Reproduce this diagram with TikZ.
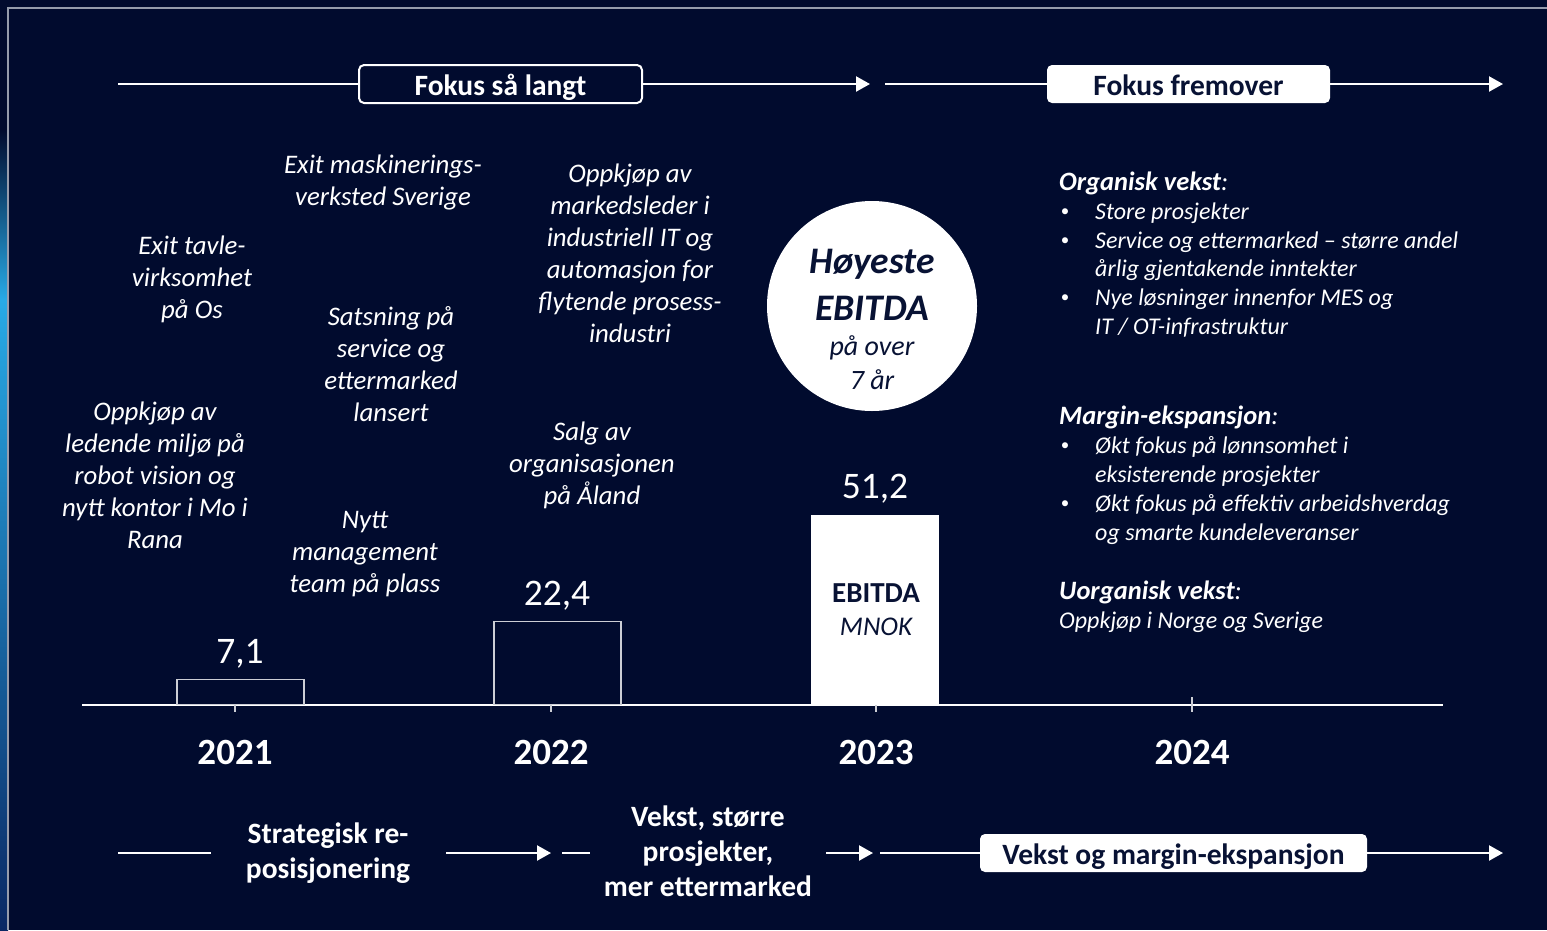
\documentclass[tikz,border=0pt]{standalone}
\usepackage{fontspec}
\setmainfont{Carlito}
\usetikzlibrary{arrows.meta}
\definecolor{bg}{RGB}{1,11,46}
\definecolor{navy}{RGB}{8,18,52}
\definecolor{framegray}{RGB}{150,156,172}
\definecolor{glowA}{RGB}{40,170,230}
\definecolor{glowB}{RGB}{20,90,170}
\definecolor{glowC}{RGB}{10,40,100}
\begin{document}
\begin{tikzpicture}[x=1pt,y=-1pt,
  every node/.style={inner sep=0pt},
  wl/.style={draw=white,line width=2.2pt},
  arr/.style={wl,-{Triangle[length=14pt,width=15pt]}},
  ann/.style={text=white,align=center,font=\fontsize{26.8}{32}\selectfont\itshape},
  hdr/.style={font=\fontsize{29.5}{34}\selectfont\bfseries,text height=22pt,text depth=0pt},
  lbox/.style={hdr,draw=white,line width=2pt,fill=bg,rounded corners=5pt,text=white,minimum height=38pt},
  wbox/.style={hdr,fill=white,rounded corners=5pt,text=navy,minimum height=38pt},
  bt/.style={text=white,align=center,font=\fontsize{29.5}{35}\selectfont\bfseries},
  year/.style={text=white,font=\fontsize{37}{42}\selectfont\bfseries},
  val/.style={text=white,font=\fontsize{37.5}{42}\selectfont},
  barn/.style={draw=white!80!bg,line width=1.3pt,anchor=south},
  rt/.style={anchor=west,text=white,font=\fontsize{24}{28}\selectfont\itshape},
  rh/.style={anchor=west,text=white,font=\fontsize{26.5}{30}\selectfont\bfseries\itshape},
  bul/.style={text=white,font=\fontsize{17}{20}\selectfont},
  cn/.style={text=navy}
]
\fill[bg] (0,0) rectangle (1547,930);
\useasboundingbox (0,0) rectangle (1547,930);
% left glow
\shade[top color=bg,bottom color=glowA] (0,130) rectangle (8,300);
\shade[top color=glowA,middle color=glowB,bottom color=glowC] (0,300) rectangle (8,930);
% frame
\draw[framegray,line width=1.5pt] (8,930) -- (8,8) -- (1547,8);

% top timeline
\node[lbox,minimum width=283pt] (fsl) at (500.5,84) {Fokus så langt};
\coordinate (t0) at (118,84);
\coordinate (t1) at (870,84);
\draw[wl] (t0) -- (fsl.west);
\draw[arr] (fsl.east) -- (t1);
\node[wbox,minimum width=283pt] (ff) at (1188.5,84) {Fokus fremover};
\coordinate (t2) at (885,84);
\coordinate (t3) at (1503,84);
\draw[wl] (t2) -- (ff.west);
\draw[arr] (ff.east) -- (t3);

% bottom timeline
\coordinate (b0) at (118,853);
\coordinate (b1) at (211,853);
\draw[wl] (b0) -- (b1);
\node[bt] (strat) at (328,853) {Strategisk re-\\posisjonering};
\coordinate (b2) at (446,853);
\coordinate (b3) at (551,853);
\draw[arr] (b2) -- (b3);
\coordinate (b4) at (562,853);
\coordinate (b5) at (590,853);
\draw[wl] (b4) -- (b5);
\node[bt] (vekst) at (708,851) {Vekst, større\\prosjekter,\\mer ettermarked};
\coordinate (b6) at (826,853);
\coordinate (b7) at (873,853);
\draw[arr] (b6) -- (b7);
\node[wbox,minimum width=387pt] (vm) at (1173.5,853) {Vekst og margin-ekspansjon};
\coordinate (b8) at (880,853);
\coordinate (b9) at (1503,853);
\draw[wl] (b8) -- (vm.west);
\draw[arr] (vm.east) -- (b9);

% axis
\coordinate (a0) at (82,705);
\coordinate (a1) at (1443,705);
\draw[white,line width=2pt] (a0) -- (a1);
\foreach \x/\yr in {235/2021,551/2022,876/2023} {
  \draw[white!80!bg,line width=1.3pt] (\x,705) -- (\x,712);
  \node[year] (y\yr) at (\x,752) {\yr};
}
\draw[white!80!bg,line width=1.3pt] (1192,697) -- (1192,712);
\node[year] (y2024) at (1192,752) {2024};

% bars
\node[barn,minimum width=127pt,minimum height=25pt] (bar21) at (240.5,705) {};
\node[barn,minimum width=127pt,minimum height=83pt] (bar22) at (557.5,705) {};
\node[fill=white,minimum width=128pt,minimum height=190pt,anchor=south] (bar23) at (875,705) {};
\node[val] (v21) at (240,654) {7,1};
\node[val] (v22) at (557,596) {22,4};
\node[val] (v23) at (875,489) {51,2};
\node[cn,font=\fontsize{29}{32}\selectfont\bfseries] (ebt) at (876,593) {EBITDA};
\node[cn,font=\fontsize{27}{30}\selectfont\itshape] (mnok) at (876,627) {MNOK};

% circle
\node[circle,fill=white,minimum size=210pt] (circ) at (872,306) {};
\node[cn,font=\fontsize{37.5}{40}\selectfont\bfseries\itshape] (c1) at (872,264) {Høyeste};
\node[cn,font=\fontsize{37.5}{40}\selectfont\bfseries\itshape] (c2) at (872,308) {EBITDA};
\node[cn,font=\fontsize{28}{30}\selectfont\itshape] (c3) at (872,348) {på over};
\node[cn,font=\fontsize{28}{30}\selectfont\itshape] (c4) at (872,380) {7 år};

% annotations
\node[ann] (n1) at (192,279) {Exit tavle-\\virksomhet\\på Os};
\node[ann] (n2) at (155,475) {Oppkjøp av\\ledende miljø på\\robot vision og\\nytt kontor i Mo i\\Rana};
\node[ann] (n3) at (383,182) {Exit maskinerings-\\verksted Sverige};
\node[ann] (n4) at (391,364) {Satsning på\\service og\\ettermarked\\lansert};
\node[ann] (n5) at (365,554) {Nytt\\management\\team på plass};
\node[ann] (n6) at (630,253) {Oppkjøp av\\markedsleder i\\industriell IT og\\automasjon for\\flytende prosess-\\industri};
\node[ann] (n7) at (592,465) {Salg av\\organisasjonen\\på Åland};

% right column
\node[rh] (h1) at (1059,183) {Organisk vekst\textmd{:}};
\node[bul] (d1) at (1065,213) {•};
\node[rt] (r1) at (1095,213) {Store prosjekter};
\node[bul] (d2) at (1065,242) {•};
\node[rt] (r2) at (1095,242) {Service og ettermarked – større andel};
\node[rt] (r3) at (1095,270) {årlig gjentakende inntekter};
\node[bul] (d3) at (1065,299) {•};
\node[rt] (r4) at (1095,299) {Nye løsninger innenfor MES og};
\node[rt] (r5) at (1095,328) {IT / OT-infrastruktur};

\node[rh] (h2) at (1059,417) {Margin-ekspansjon\textmd{:}};
\node[bul] (d4) at (1065,447) {•};
\node[rt] (r6) at (1095,447) {Økt fokus på lønnsomhet i};
\node[rt] (r7) at (1095,476) {eksisterende prosjekter};
\node[bul] (d5) at (1065,505) {•};
\node[rt] (r8) at (1095,505) {Økt fokus på effektiv arbeidshverdag};
\node[rt] (r9) at (1095,534) {og smarte kundeleveranser};

\node[rh] (h3) at (1059,592) {Uorganisk vekst\textmd{:}};
\node[rt] (r10) at (1059,622) {Oppkjøp i Norge og Sverige};
\end{tikzpicture}
\end{document}
